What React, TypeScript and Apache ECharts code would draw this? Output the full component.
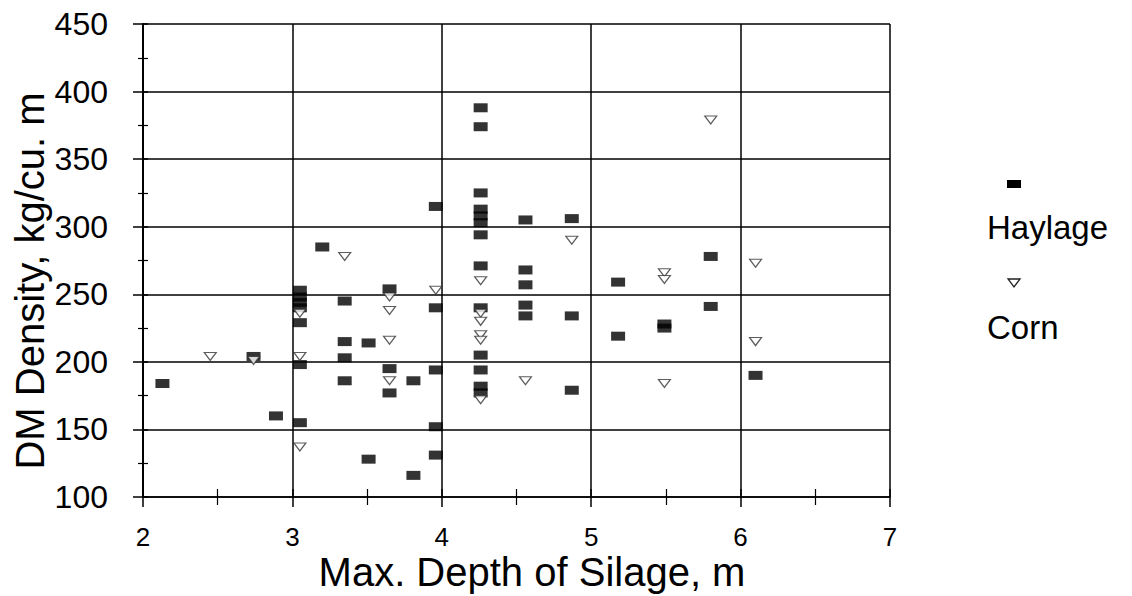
import React, { useEffect, useRef } from "react";
import * as echarts from "echarts";

const FONT = '"Liberation Sans", Arial, Helvetica, sans-serif';

// Max. depth of silage (m), DM density (kg/cu. m)
const haylage: [number, number][] = [
  [2.13, 184], [2.74, 204], [2.89, 160],
  [3.05, 253], [3.05, 248], [3.05, 244], [3.05, 240], [3.05, 229], [3.05, 198], [3.05, 155],
  [3.2, 285],
  [3.35, 245], [3.35, 215], [3.35, 203], [3.35, 186],
  [3.51, 214], [3.51, 128],
  [3.65, 254], [3.65, 195], [3.65, 177],
  [3.81, 186], [3.81, 116],
  [3.96, 315], [3.96, 240], [3.96, 194], [3.96, 152], [3.96, 131],
  [4.26, 388], [4.26, 374], [4.26, 325], [4.26, 313], [4.26, 308], [4.26, 303], [4.26, 294],
  [4.26, 271], [4.26, 240], [4.26, 205], [4.26, 194], [4.26, 182], [4.26, 177],
  [4.56, 305], [4.56, 268], [4.56, 257], [4.56, 242], [4.56, 234],
  [4.87, 306], [4.87, 234], [4.87, 179],
  [5.18, 259], [5.18, 219],
  [5.49, 228], [5.49, 225],
  [5.8, 278], [5.8, 241],
  [6.1, 190],
];

const corn: [number, number][] = [
  [2.45, 204], [2.74, 201],
  [3.05, 236], [3.05, 204], [3.05, 137],
  [3.35, 278],
  [3.65, 248], [3.65, 238], [3.65, 216], [3.65, 186],
  [3.96, 253],
  [4.26, 260], [4.26, 236], [4.26, 230], [4.26, 220], [4.26, 216], [4.26, 172],
  [4.56, 186],
  [4.87, 290],
  [5.49, 266], [5.49, 261], [5.49, 184],
  [5.8, 379],
  [6.1, 273], [6.1, 215],
];

const xMin = 2, xMax = 7, xStep = 1;
const yMin = 100, yMax = 450, yStep = 50;
const xTitle = "Max. Depth of Silage, m";
const yTitle = "DM Density, kg/cu. m";
const seriesNames = ["Haylage", "Corn"];

const CORN_PATH = "path://M0,0 L12,0 L6,8 Z";

export default function App() {
  const ref = useRef<HTMLDivElement>(null);
  useEffect(() => {
    document.body.style.margin = "0";
    if (!ref.current) return;
    const chart = echarts.init(ref.current, undefined, { renderer: "svg" });
    const lineBlack = { color: "#000", width: 1.5 };
    const baseX = { type: "value", min: xMin, max: xMax, interval: xStep, position: "bottom" };
    const baseY = { type: "value", min: yMin, max: yMax, interval: yStep, position: "left" };
    chart.setOption({
      animation: false,
      backgroundColor: "#fff",
      grid: { left: 143, right: 242, top: 24, bottom: 99 },
      xAxis: [
        {
          ...baseX,
          axisLine: { show: true, onZero: false, lineStyle: lineBlack },
          axisTick: { show: true, length: 10, lineStyle: lineBlack },
          minorTick: { show: true, splitNumber: 2, length: 8, lineStyle: { color: "#000", width: 1.2 } },
          axisLabel: { fontSize: 26, color: "#000", margin: 27, fontFamily: FONT },
          splitLine: { show: true, lineStyle: lineBlack },
        },
        {
          ...baseX,
          axisLine: { show: false },
          axisTick: { show: true, inside: true, length: 8, lineStyle: lineBlack },
          minorTick: { show: true, splitNumber: 2, length: 8, lineStyle: { color: "#000", width: 1.2 } },
          axisLabel: { show: false },
          splitLine: { show: false },
        },
      ],
      yAxis: [
        {
          ...baseY,
          axisLine: { show: true, onZero: false, lineStyle: { color: "#000", width: 2 } },
          axisTick: { show: true, length: 10, lineStyle: lineBlack },
          minorTick: { show: true, splitNumber: 2, length: 5, lineStyle: { color: "#000", width: 1.2 } },
          axisLabel: { fontSize: 32, color: "#000", margin: 35, fontFamily: FONT },
          splitLine: { show: true, lineStyle: lineBlack },
        },
        {
          ...baseY,
          axisLine: { show: false },
          axisTick: { show: true, inside: true, length: 5, lineStyle: lineBlack },
          minorTick: { show: true, splitNumber: 2, length: 5, lineStyle: { color: "#000", width: 1.2 } },
          axisLabel: { show: false },
          splitLine: { show: false },
        },
      ],
      series: [
        {
          type: "scatter",
          name: seriesNames[0],
          xAxisIndex: 0,
          yAxisIndex: 0,
          data: haylage,
          symbol: "rect",
          symbolSize: [14, 9],
          itemStyle: { color: "#000" },
          z: 3,
        },
        {
          type: "scatter",
          name: seriesNames[1],
          xAxisIndex: 0,
          yAxisIndex: 0,
          data: corn,
          symbol: CORN_PATH,
          symbolSize: [12, 8],
          itemStyle: { color: "#fff", borderColor: "#333", borderWidth: 1.2 },
          z: 4,
        },
      ],
      graphic: [
        {
          type: "text",
          x: 532,
          y: 572,
          style: { text: xTitle, fontSize: 40, fontFamily: FONT, fill: "#000", align: "center", verticalAlign: "middle" },
        },
        {
          type: "text",
          x: 30,
          y: 281,
          rotation: Math.PI / 2,
          style: { text: yTitle, fontSize: 40, fontFamily: FONT, fill: "#000", align: "center", verticalAlign: "middle" },
        },
        { type: "rect", shape: { x: 1007, y: 180, width: 14, height: 8 }, style: { fill: "#000" } },
        {
          type: "text",
          x: 987,
          y: 227,
          style: { text: seriesNames[0], fontSize: 33, fontFamily: FONT, fill: "#000", align: "left", verticalAlign: "middle" },
        },
        {
          type: "polygon",
          shape: { points: [[1008, 279], [1020, 279], [1014, 287]] },
          style: { fill: "#fff", stroke: "#222", lineWidth: 1.3 },
        },
        {
          type: "text",
          x: 987,
          y: 327,
          style: { text: seriesNames[1], fontSize: 33, fontFamily: FONT, fill: "#000", align: "left", verticalAlign: "middle" },
        },
      ],
    });
    return () => chart.dispose();
  }, []);
  return <div ref={ref} style={{ width: 1132, height: 596 }} />;
}
